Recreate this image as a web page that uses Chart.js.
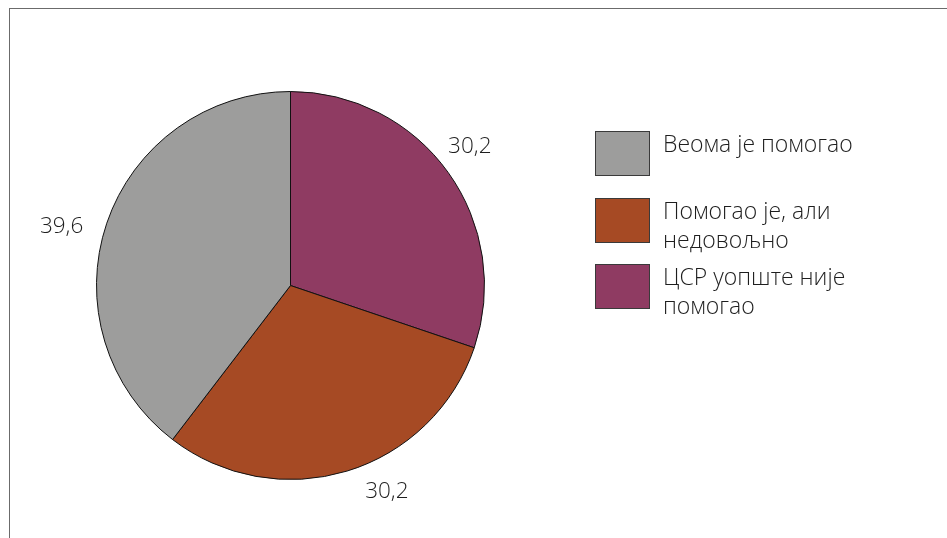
<!DOCTYPE html>
<html>
<head>
<meta charset="utf-8">
<script src="https://cdn.jsdelivr.net/npm/chart.js@4/dist/chart.umd.min.js"></script>
<style>
  html, body { margin: 0; padding: 0; background: #ffffff; }
  body { width: 947px; height: 538px; position: relative; overflow: hidden; font-family: "Open Sans", "Noto Sans", sans-serif; }
  #frame { position: absolute; left: 9px; top: 8px; width: 1000px; height: 600px; border-left: 1px solid #6b6b6b; border-top: 1px solid #6b6b6b; }
  #wrap { position: absolute; left: 0; top: 0; width: 947px; height: 538px; }
  #legend { position: absolute; left: 595px; top: 129px; }
  .item { position: relative; height: 66.5px; }
  .box { position: absolute; left: 0; top: 2px; width: 53px; height: 43px; border: 1px solid #3a3a3a; }
  .txt { position: absolute; left: 68px; top: 0; width: 250px; font-size: 23px; font-weight: 300; line-height: 29px; color: #1e1e1e; }
</style>
</head>
<body>
<div id="frame"></div>
<div id="wrap"><canvas id="c" width="947" height="538"></canvas></div>
<div id="legend"></div>
<script>
// Legend order (as shown in the reference)
const categories = ['Веома је помогао', 'Помогао је, али недовољно', 'ЦСР уопште није помогао'];
const values = [39.6, 30.2, 30.2];
const valueLabels = ['39,6', '30,2', '30,2'];
const colors = ['#9d9d9c', '#a64a24', '#8f3b62'];

// The pie runs clockwise from 12 o'clock in reverse legend order
const order = [2, 1, 0];

const outsideLabels = {
  id: 'outsideLabels',
  afterDatasetsDraw(chart, args, opts) {
    const ctx = chart.ctx;
    const meta = chart.getDatasetMeta(0);
    ctx.save();
    ctx.font = '300 22.5px "Open Sans", "Noto Sans", sans-serif';
    ctx.fillStyle = '#1e1e1e';
    ctx.textAlign = 'center';
    ctx.textBaseline = 'middle';
    meta.data.forEach((arc, i) => {
      const p = arc.getProps(['x', 'y', 'startAngle', 'endAngle', 'outerRadius'], true);
      const mid = (p.startAngle + p.endAngle) / 2;
      const c = Math.cos(mid), s = Math.sin(mid);
      const r = p.outerRadius + opts.gap;
      const n = opts.nudge[i] || [0, 0];
      ctx.fillText(chart.data.datasets[0].valueLabels[i], p.x + c * r + n[0], p.y + s * r + n[1]);
    });
    ctx.restore();
  }
};

const chart = new Chart(document.getElementById('c'), {
  type: 'pie',
  data: {
    labels: order.map(i => categories[i]),
    datasets: [{
      data: order.map(i => values[i]),
      valueLabels: order.map(i => valueLabels[i]),
      backgroundColor: order.map(i => colors[i]),
      borderColor: '#111',
      borderWidth: 1,
      hoverOffset: 0,
      offset: 0
    }]
  },
  options: {
    responsive: false,
    animation: false,
    rotation: 0,
    layout: { padding: { left: 96, right: 462, top: 91, bottom: 58 } },
    plugins: {
      legend: { display: false },
      tooltip: { enabled: false },
      outsideLabels: { gap: 34, nudge: [[-6, -6], [30, -12], [-13, 14]] }
    },
    events: []
  },
  plugins: [outsideLabels]
});

// HTML legend built from the same arrays
const legend = document.getElementById('legend');
categories.forEach((name, i) => {
  const item = document.createElement('div');
  item.className = 'item';
  const box = document.createElement('div');
  box.className = 'box';
  box.style.background = colors[i];
  const txt = document.createElement('div');
  txt.className = 'txt';
  txt.textContent = name;
  item.appendChild(box);
  item.appendChild(txt);
  legend.appendChild(item);
});
</script>
</body>
</html>
